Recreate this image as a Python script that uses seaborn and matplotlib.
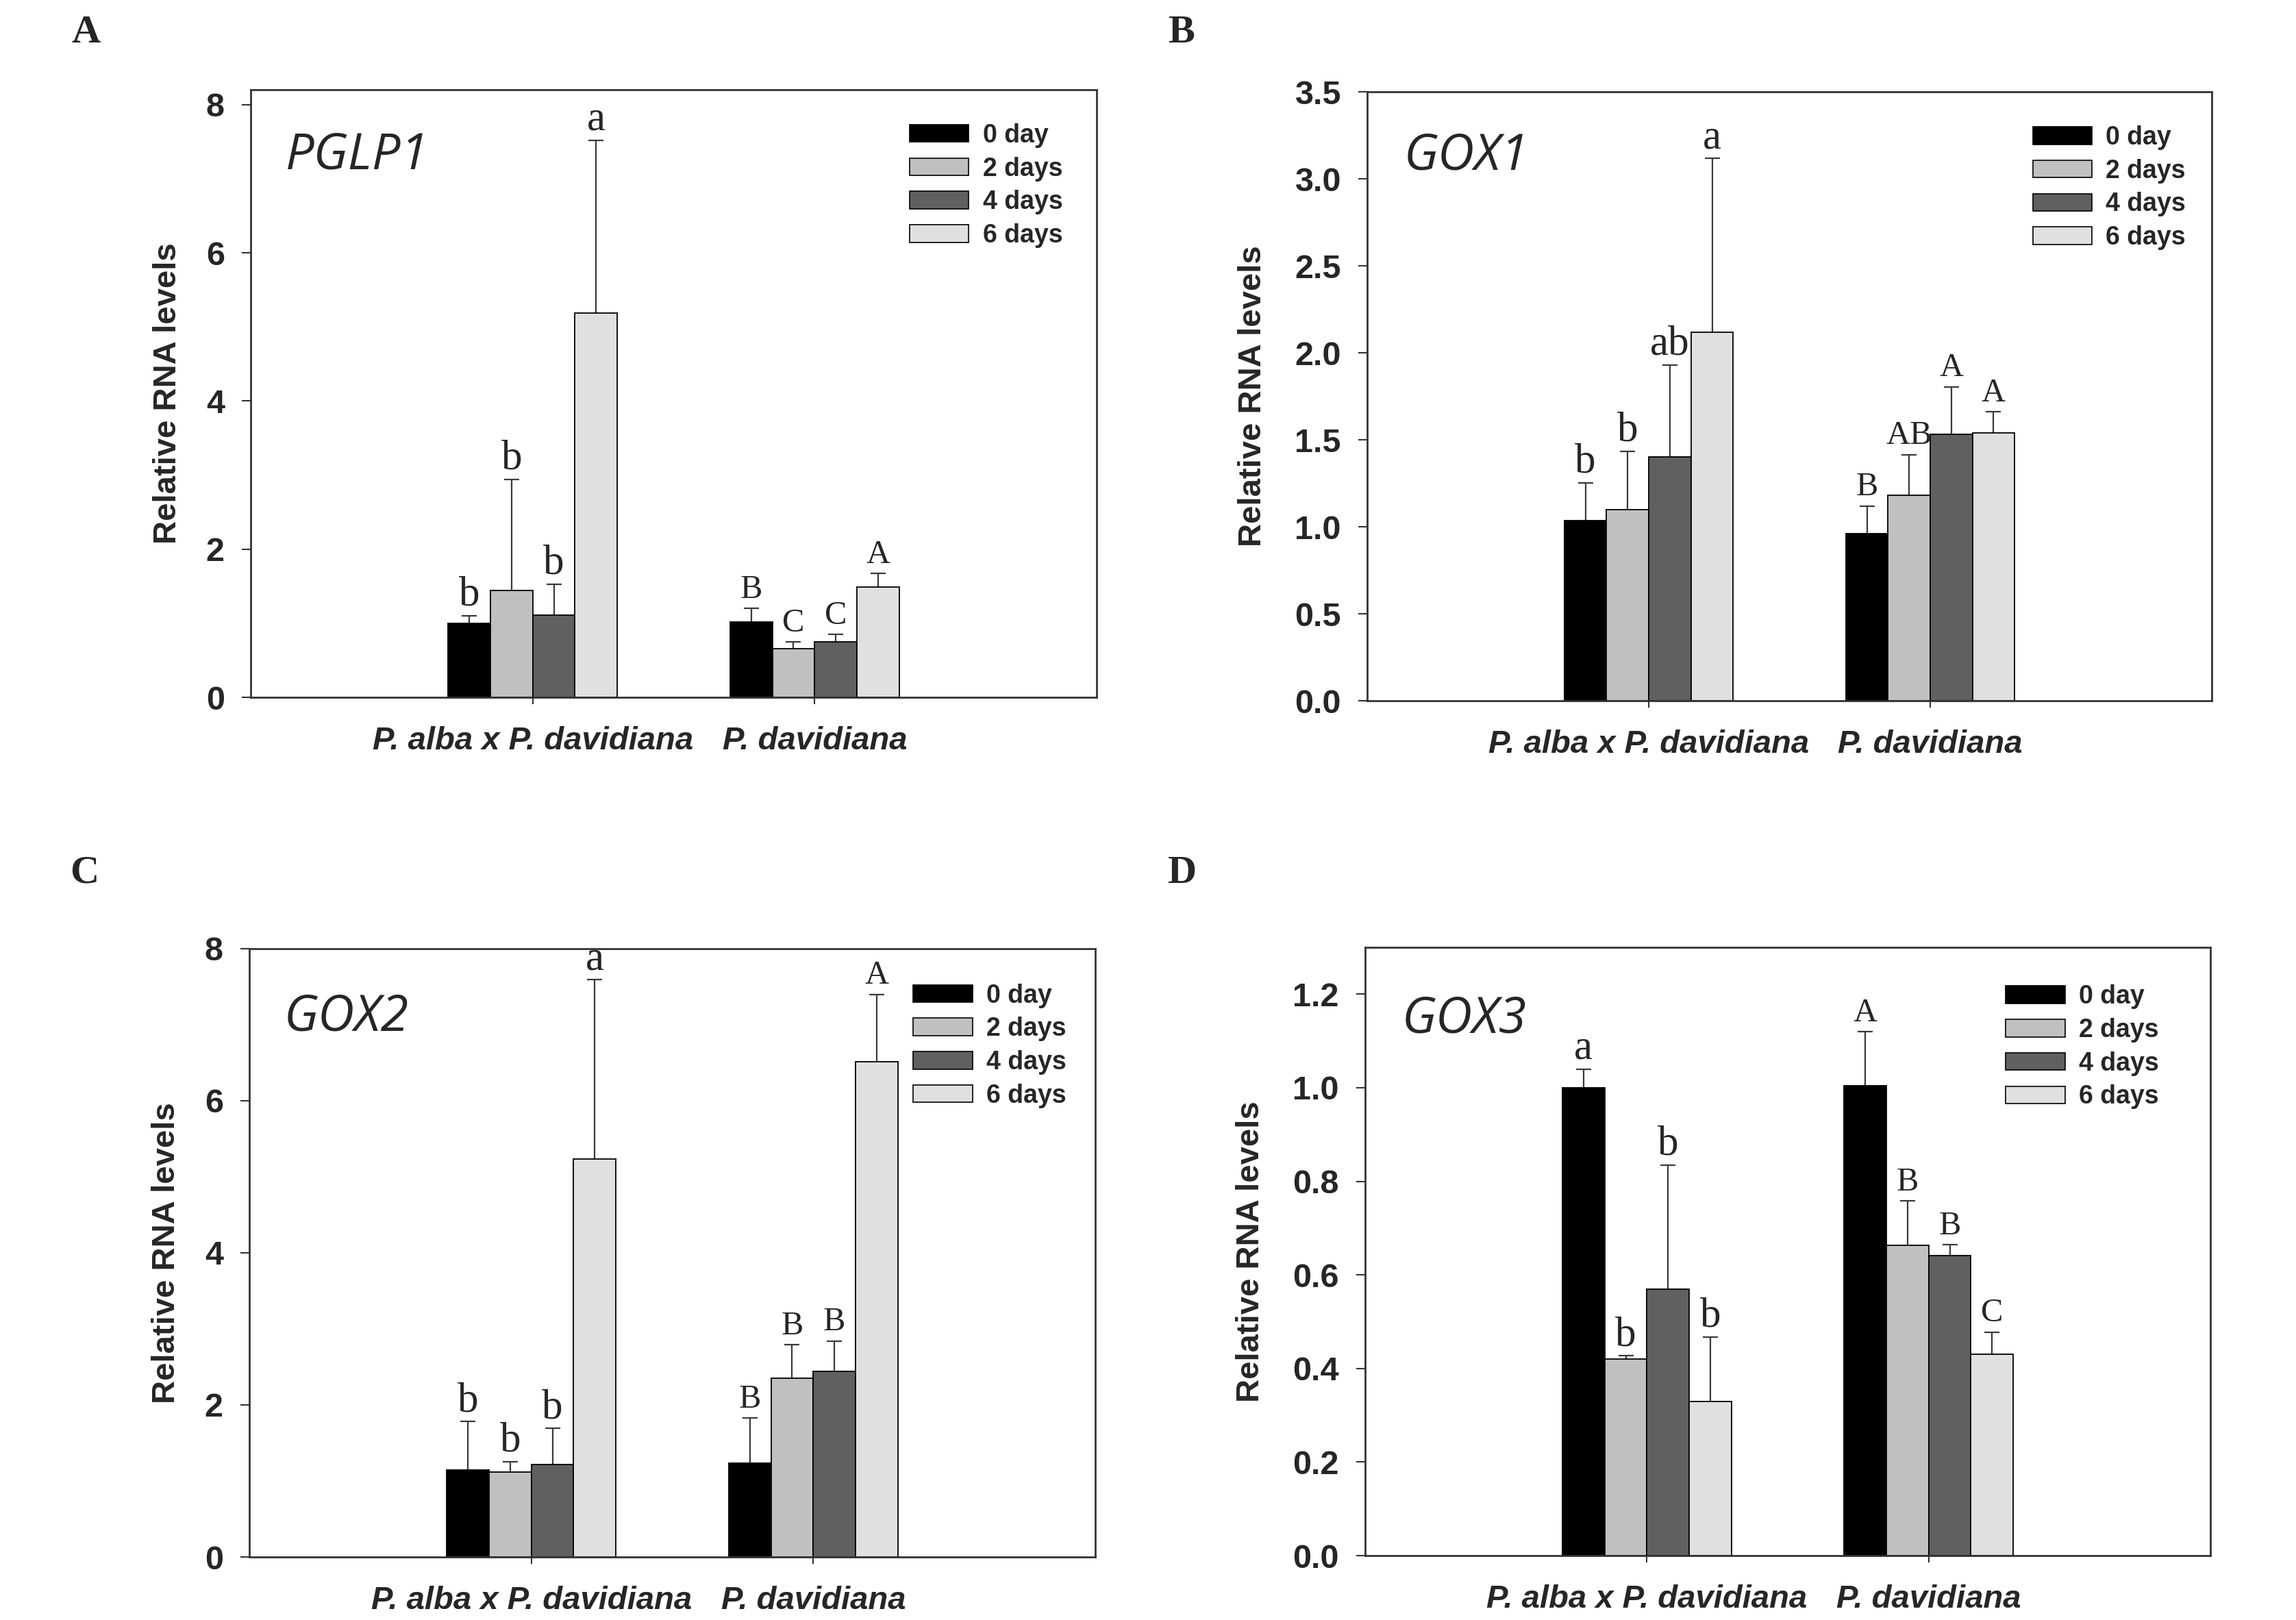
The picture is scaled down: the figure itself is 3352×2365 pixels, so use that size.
import numpy as np
import pandas as pd
import matplotlib
matplotlib.use("Agg")
import matplotlib.pyplot as plt
import seaborn as sns

# ---------------- data ----------------
groups = ["P. alba x P. davidiana", "P. davidiana"]
days = ["0 day", "2 days", "4 days", "6 days"]
day_colors = ["#000000", "#c0c0c0", "#606060", "#e0e0e0"]

genes = ["PGLP1", "GOX1", "GOX2", "GOX3"]
panel_letters = ["A", "B", "C", "D"]

pglp1_hybrid_mean = [1.00, 1.44, 1.11, 5.19]
pglp1_hybrid_err = [0.10, 1.50, 0.42, 2.33]
pglp1_dav_mean = [1.02, 0.66, 0.75, 1.49]
pglp1_dav_err = [0.18, 0.09, 0.10, 0.18]
pglp1_hybrid_sig = ["b", "b", "b", "a"]
pglp1_dav_sig = ["B", "C", "C", "A"]

gox1_hybrid_mean = [1.034, 1.10, 1.40, 2.117]
gox1_hybrid_err = [0.22, 0.335, 0.53, 1.00]
gox1_dav_mean = [0.96, 1.18, 1.53, 1.54]
gox1_dav_err = [0.16, 0.235, 0.275, 0.12]
gox1_hybrid_sig = ["b", "b", "ab", "a"]
gox1_dav_sig = ["B", "AB", "A", "A"]

gox2_hybrid_mean = [1.14, 1.12, 1.22, 5.23]
gox2_hybrid_err = [0.64, 0.13, 0.47, 2.36]
gox2_dav_mean = [1.23, 2.35, 2.44, 6.51]
gox2_dav_err = [0.60, 0.44, 0.40, 0.89]
gox2_hybrid_sig = ["b", "b", "b", "a"]
gox2_dav_sig = ["B", "B", "B", "A"]

gox3_hybrid_mean = [1.00, 0.42, 0.569, 0.33]
gox3_hybrid_err = [0.04, 0.007, 0.266, 0.137]
gox3_dav_mean = [1.005, 0.663, 0.641, 0.43]
gox3_dav_err = [0.115, 0.095, 0.024, 0.048]
gox3_hybrid_sig = ["a", "b", "b", "b"]
gox3_dav_sig = ["A", "B", "B", "C"]

y_limits = [(0, 8.2), (0, 3.5), (0, 8), (0, 1.3)]
y_ticks = [[0, 2, 4, 6, 8],
           [0.0, 0.5, 1.0, 1.5, 2.0, 2.5, 3.0, 3.5],
           [0, 2, 4, 6, 8],
           [0.0, 0.2, 0.4, 0.6, 0.8, 1.0, 1.2]]
y_fmt = ["{:.0f}", "{:.1f}", "{:.0f}", "{:.1f}"]

# ---------------- style ----------------
sns.set_theme(style="white")
plt.rcParams["font.family"] = ["Liberation Sans", "DejaVu Sans"]

fig = plt.figure(figsize=(33.52, 23.65), dpi=100)

axes_rects = [
    [0.1092, 0.5695, 0.3684, 0.3751],
    [0.5955, 0.5674, 0.3678, 0.3759],
    [0.1086, 0.0389, 0.3684, 0.3755],
    [0.5946, 0.0397, 0.3681, 0.3755],
]
legend_anchor = [(0.779, 0.945), (0.788, 0.945), (0.785, 0.943), (0.758, 0.939)]
ylabel_x = [-0.080, -0.118, -0.080, -0.118]
gene_pos = [(0.041, 0.870), (0.043, 0.872), (0.041, 0.865), (0.043, 0.860)]
letter_pos = [(0.0373, 0.9795), (0.5145, 0.9795), (0.0367, 0.461), (0.5150, 0.461)]

panels = [
    (pglp1_hybrid_mean, pglp1_hybrid_err, pglp1_dav_mean, pglp1_dav_err, pglp1_hybrid_sig, pglp1_dav_sig),
    (gox1_hybrid_mean, gox1_hybrid_err, gox1_dav_mean, gox1_dav_err, gox1_hybrid_sig, gox1_dav_sig),
    (gox2_hybrid_mean, gox2_hybrid_err, gox2_dav_mean, gox2_dav_err, gox2_hybrid_sig, gox2_dav_sig),
    (gox3_hybrid_mean, gox3_hybrid_err, gox3_dav_mean, gox3_dav_err, gox3_hybrid_sig, gox3_dav_sig),
]

for k, (hm, he, dm, de, hs, ds) in enumerate(panels):
    ax = fig.add_axes(axes_rects[k])
    df = pd.DataFrame({
        "group": np.repeat(groups, len(days)),
        "day": days * len(groups),
        "value": list(hm) + list(dm),
    })
    sns.barplot(data=df, x="group", y="value", hue="day", order=groups,
                hue_order=days, palette=day_colors, width=0.6, errorbar=None,
                edgecolor="black", linewidth=1.3, saturation=1, ax=ax)

    bar_containers = list(ax.containers)
    errs = [he, de]
    sigs = [hs, ds]
    for hi, cont in enumerate(bar_containers):
        xs, hts, ups, labs = [], [], [], []
        for gj, bar in enumerate(cont.patches):
            xs.append(bar.get_x() + bar.get_width() / 2)
            hts.append(bar.get_height())
            ups.append(errs[gj][hi])
            labs.append(sigs[gj][hi])
        xs = np.array(xs); hts = np.array(hts); ups = np.array(ups)
        _, caps, _ = ax.errorbar(xs, hts, yerr=[np.zeros_like(ups), ups], fmt="none",
                                 ecolor="#3a3a3a", elinewidth=1.6, capsize=8,
                                 capthick=1.6, zorder=0.5)
        for c in caps:
            if np.allclose(c.get_ydata(), hts):
                c.set_visible(False)
        for x, top, lab in zip(xs, hts + ups, labs):
            fs = 44 if lab.islower() else 35
            ax.annotate(lab, (x, top), xytext=(0, 11), textcoords="offset points",
                        ha="center", va="baseline", fontsize=fs,
                        family=["Liberation Serif", "DejaVu Serif"])

    ax.set_xlim(-1, 2)
    ax.set_ylim(*y_limits[k])
    ax.set_yticks(y_ticks[k])
    ax.set_yticklabels([y_fmt[k].format(v) for v in y_ticks[k]])
    ax.set_xlabel("")
    ax.set_ylabel("Relative RNA levels", fontsize=34, fontweight="bold")
    ax.yaxis.set_label_coords(ylabel_x[k], 0.5)

    ax.tick_params(axis="y", direction="out", length=9.5, width=1.5, pad=18,
                   labelsize=35, left=True, color="#333333")
    ax.tick_params(axis="x", direction="out", length=7, width=1.5, pad=23,
                   labelsize=34, bottom=True, color="#333333")
    for lbl in ax.get_yticklabels():
        lbl.set_fontweight("bold")
    for lbl in ax.get_xticklabels():
        lbl.set_fontweight("bold")
        lbl.set_fontstyle("italic")

    for sp in ax.spines.values():
        sp.set_visible(True)
        sp.set_color("#333333")
        sp.set_linewidth(2.0)

    ax.text(gene_pos[k][0], gene_pos[k][1], genes[k], transform=ax.transAxes,
            fontsize=53, fontstyle="italic", family=["Open Sans", "DejaVu Sans"],
            ha="left", va="baseline")

    handles, labels = ax.get_legend_handles_labels()
    for h in handles:
        h.set_edgecolor("black")
        h.set_linewidth(1.2)
    ax.legend(handles, labels, loc="upper left", bbox_to_anchor=legend_anchor[k],
              frameon=False, prop={"size": 27, "weight": "bold"},
              handlelength=2.3, handleheight=0.67, handletextpad=0.55,
              labelspacing=0.34, borderpad=0, borderaxespad=0)

    fig.text(letter_pos[k][0], letter_pos[k][1], panel_letters[k], fontsize=42,
             fontweight="bold", family=["Liberation Serif", "DejaVu Serif"],
             ha="center", va="center")

fig.savefig("out.png", dpi=100, facecolor="white")
